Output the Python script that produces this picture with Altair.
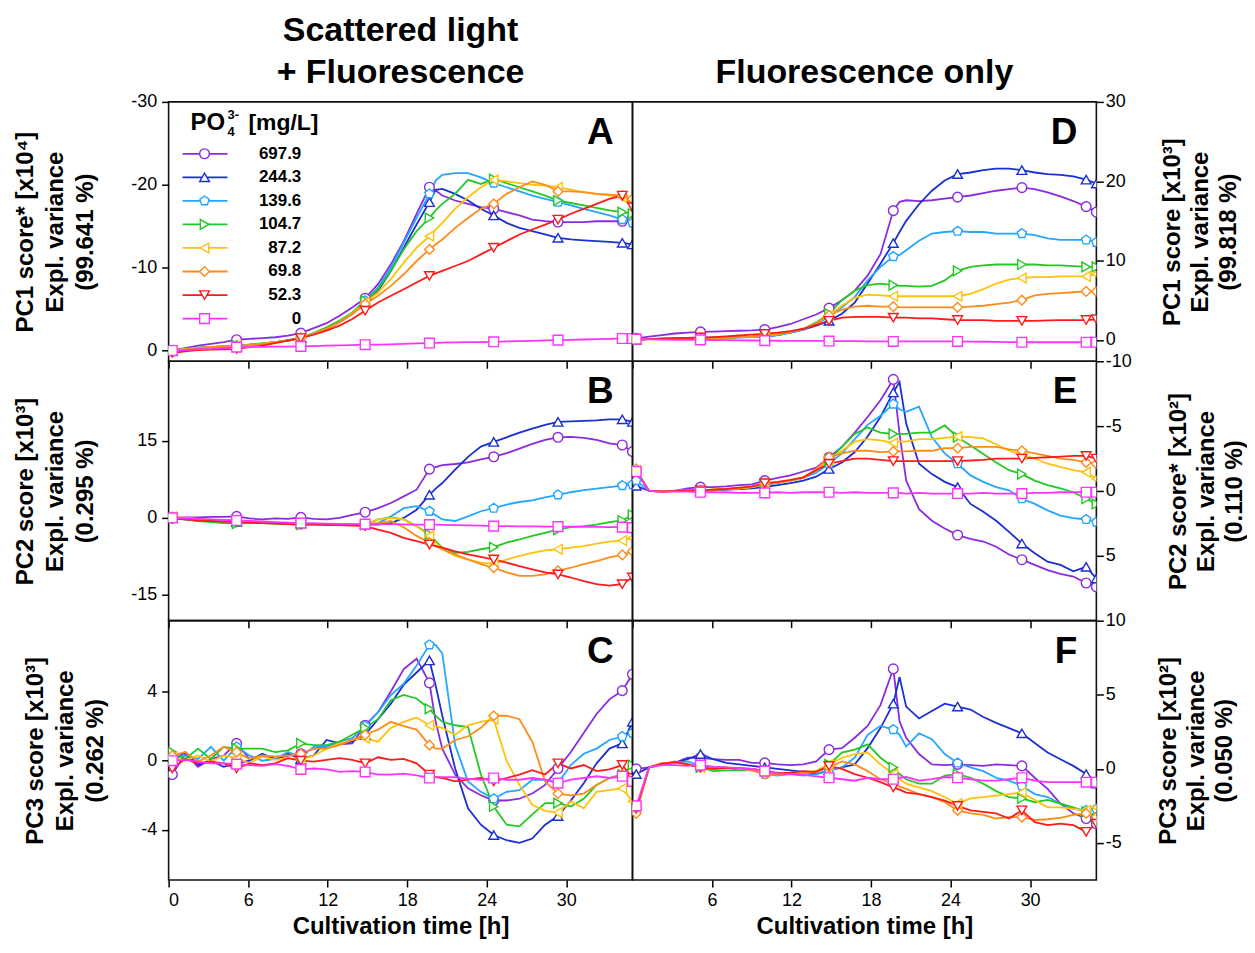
import altair as alt
import pandas as pd

FONT = "Liberation Sans"

# ---------------- data ----------------
time_h = [0.28, 1.25, 2.22, 3.19, 4.16, 5.13, 6.10, 7.07, 8.04, 9.01,
          9.98, 10.95, 11.92, 12.89, 13.86, 14.83, 15.80, 16.77, 17.74, 18.71,
          19.68, 20.15, 20.65, 21.62, 22.59, 23.56, 24.53, 25.50, 26.47, 27.44,
          28.41, 29.38, 30.35, 31.32, 32.29, 33.26, 34.23, 35.0]
marker_idx = [0, 5, 10, 15, 20, 26, 31, 36, 37]

conc_labels = ["697.9", "244.3", "139.6", "104.7", "87.2", "69.8", "52.3", "0"]
series_colors = ["#8A2BE2", "#1A2FD4", "#22A6FF", "#22C922", "#FFC20A", "#FF8C1A", "#FF1A1A", "#FF33FF"]
PENTAGON = "M0,-1L0.951,-0.309L0.588,0.809L-0.588,0.809L-0.951,-0.309Z"
series_shapes = ["circle", "triangle-up", PENTAGON, "triangle-right", "triangle-left",
                 "diamond", "triangle-down", "square"]

# Panel A: PC1, scattered light + fluorescence
A_6979 = [0.0,-0.3,-0.6,-0.8,-1.0, -1.3,-1.4,-1.5,-1.6,-1.8, -2.1,-2.7,-3.3,-4.2,-5.2, -6.3,-8.0,-10.4,-13.2,-16.5, -19.7,-19.3, -18.7,-18.1,-17.7,-17.3,-17.1, -16.7,-16.3,-15.8,-15.6,-15.5, -15.5,-15.5,-15.6,-15.6,-15.6, -16.0]
A_2443 = [0.1,-0.2,-0.3,-0.4,-0.5, -0.6,-0.7,-0.8,-1.0,-1.2, -1.5,-2.0,-2.6,-3.4,-4.4, -5.8,-7.2,-9.6,-12.4,-15.2, -17.9,-19.4, -19.5,-18.9,-18.1,-17.1,-16.3, -15.4,-14.8,-14.4,-14.0,-13.6, -13.4,-13.3,-13.2,-13.1,-13.0, -12.8]
A_1396 = [0.0,-0.2,-0.3,-0.4,-0.5, -0.6,-0.7,-0.85,-1.0,-1.25, -1.5,-2.1,-2.7,-3.5,-4.5, -6.0,-7.6,-10.0,-13.0,-16.0, -18.9,-20.5, -21.2,-21.4,-21.4,-20.9,-20.2, -19.7,-19.2,-18.7,-18.3,-17.9, -17.5,-17.1,-16.7,-16.3,-15.8, -15.4]
A_1047 = [0.0,-0.2,-0.35,-0.45,-0.5, -0.6,-0.7,-0.85,-1.0,-1.25, -1.5,-2.1,-2.8,-3.6,-4.6, -6.0,-7.4,-9.6,-12.2,-14.4, -16.0,-16.9, -17.7,-18.9,-20.6,-20.1,-20.7, -20.2,-19.7,-19.2,-18.7,-18.1, -17.8,-17.5,-17.2,-16.9,-16.7, -16.5]
A_872 = [0.0,-0.15,-0.3,-0.4,-0.5, -0.55,-0.65,-0.8,-1.0,-1.2, -1.5,-2.0,-2.6,-3.4,-4.5, -5.8,-7.0,-8.6,-10.6,-12.4, -13.8,-14.6, -15.4,-17.1,-18.5,-19.7,-20.6, -20.4,-20.2,-20.0,-19.9,-19.7, -19.4,-19.1,-18.9,-18.7,-18.5, -18.1]
A_698 = [0.1,-0.15,-0.3,-0.4,-0.5, -0.55,-0.65,-0.8,-1.0,-1.2, -1.5,-2.0,-2.6,-3.4,-4.4, -5.6,-6.6,-7.8,-9.2,-10.8, -12.2,-12.8, -13.4,-14.8,-16.0,-17.1,-17.7, -18.9,-19.7,-20.4,-20.0,-19.2, -19.2,-19.1,-18.9,-18.8,-18.7, -18.3]
A_523 = [0.3,0.1,-0.05,-0.1,-0.15, -0.2,-0.4,-0.6,-0.9,-1.2, -1.5,-1.9,-2.4,-3.0,-3.8, -4.8,-5.8,-6.6,-7.4,-8.2, -9.0,-9.3, -9.6,-10.2,-10.8,-11.6,-12.4, -13.2,-14.0,-14.6,-15.2,-15.8, -16.5,-17.1,-17.7,-18.3,-18.7, -17.3]
A_0 = [0.0,-0.05,-0.15,-0.2,-0.3, -0.4,-0.42,-0.44,-0.46,-0.48, -0.5,-0.54,-0.58,-0.62,-0.66, -0.7,-0.72,-0.75,-0.8,-0.85, -0.9,-0.92, -0.94,-0.97,-1.0,-1.02,-1.05, -1.09,-1.13,-1.17,-1.21,-1.25, -1.29,-1.33,-1.37,-1.41,-1.45, -1.45]

# Panel B: PC2, scattered light + fluorescence
B_6979 = [0.0,0.1,0.1,0.2,0.2, 0.3,-0.1,-0.3,-0.1,-0.2, 0.1,-0.2,-0.3,0.0,0.6, 1.1,1.9,2.9,4.2,5.5, 9.5,9.9, 10.3,10.5,10.8,11.4,11.9, 12.6,13.5,14.4,15.2,15.7, 15.8,15.6,15.2,14.5,14.2, 12.9]
B_2443 = [0.0,-0.3,-0.5,-0.6,-0.7, -0.8,-0.9,-1.0,-1.0,-1.1, -1.1,-1.1,-1.2,-1.2,-1.3, -1.3,-1.3,-1.0,0.0,1.6, 4.5,5.7, 6.8,9.4,11.9,13.9,14.8, 15.7,16.6,17.4,18.1,18.7, 18.8,18.9,19.0,19.2,19.2, 18.7]
B_1396 = [0.0,-0.3,-0.5,-0.6,-0.7, -0.8,-0.9,-1.0,-1.0,-1.2, -1.3,-1.3,-1.3,-1.3,-1.3, -1.3,-1.0,0.3,1.9,2.3, 1.3,0.5, -0.3,-0.6,0.3,1.3,1.9, 2.6,3.1,3.4,4.0,4.5, 5.0,5.4,5.7,6.0,6.3, 6.5]
B_1047 = [0.1,-0.3,-0.6,-0.8,-1.0, -1.1,-1.0,-1.0,-1.1,-1.2, -1.3,-1.2,-1.2,-1.3,-1.3, -1.3,-0.3,0.1,-0.3,-1.6, -3.2,-4.5, -5.8,-6.8,-6.6,-6.1,-5.7, -4.8,-4.2,-3.5,-2.9,-2.3, -1.8,-1.6,-1.3,-0.8,-0.5, 0.6]
B_872 = [0.2,0.0,-0.2,-0.4,-0.5, -0.6,-0.7,-0.8,-0.9,-1.0, -1.1,-1.2,-1.2,-1.3,-1.3, -1.3,-0.3,0.0,-0.3,-1.6, -3.5,-4.8, -6.1,-7.4,-8.1,-8.7,-8.9, -8.1,-7.4,-6.8,-6.3,-6.1, -5.8,-5.5,-5.0,-4.6,-4.4, -3.9]
B_698 = [0.2,0.0,-0.2,-0.4,-0.5, -0.6,-0.7,-0.8,-0.9,-1.0, -1.1,-1.2,-1.2,-1.3,-1.3, -1.3,-1.0,-0.6,-1.8,-3.5, -4.8,-5.5, -6.1,-7.1,-8.1,-9.0,-9.7, -10.6,-11.3,-11.3,-11.0,-10.3, -9.7,-9.0,-8.4,-7.7,-7.2, -6.5]
B_523 = [-0.2,-0.3,-0.5,-0.6,-0.7, -0.8,-0.9,-1.0,-1.1,-1.2, -1.3,-1.3,-1.4,-1.4,-1.5, -1.6,-2.3,-2.9,-3.9,-4.5, -5.2,-5.5, -5.8,-6.5,-7.1,-7.6,-8.1, -8.7,-9.4,-10.0,-10.6,-11.0, -11.6,-12.3,-12.9,-13.2,-12.9, -11.6]
B_0 = [0.0,-0.1,-0.2,-0.3,-0.4, -0.5,-0.6,-0.7,-0.8,-0.9, -1.0,-1.05,-1.1,-1.15,-1.2, -1.2,-1.2,-1.2,-1.25,-1.3, -1.3,-1.3, -1.35,-1.4,-1.45,-1.5,-1.6, -1.6,-1.65,-1.65,-1.7,-1.7, -1.7,-1.75,-1.75,-1.8,-1.8, -1.9]

# Panel C: PC3, scattered light + fluorescence
C_6979 = [-0.8,0.4,-0.35,0.1,0.3, 1.0,0.1,0.3,0.1,0.3, 0.4,0.7,0.8,0.95,1.0, 2.05,2.8,4.0,5.3,5.9, 4.5,2.25, 0.7,-0.8,-1.6,-2.0,-2.3, -2.3,-2.2,-1.9,-1.4,-0.45, 0.5,1.6,2.7,3.55,4.05, 5.0]
C_2443 = [0.0,0.5,-0.25,0.0,-0.35, -0.15,0.0,0.4,0.1,0.4, 0.1,0.3,1.2,1.0,1.1, 1.5,2.4,3.3,4.4,5.1, 5.8,4.35, 2.6,-0.45,-2.75,-3.7,-4.3, -4.6,-4.75,-4.5,-3.7,-3.2, -2.3,-1.3,-0.15,0.7,1.0, 2.25]
C_1396 = [0.1,0.3,0.1,0.8,0.0, 0.8,0.3,0.0,0.1,0.5, 0.2,0.8,0.8,1.1,1.3, 2.0,2.8,3.8,4.45,5.5, 6.7,6.7, 6.2,0.9,-1.2,-1.8,-2.2, -1.8,-1.7,-1.1,-1.1,-1.3, -0.25,0.4,0.7,1.2,1.4, 1.6]
C_1047 = [0.5,0.1,0.7,0.1,0.8, 0.7,0.7,0.7,0.5,0.6, 1.0,0.9,0.9,1.1,1.5, 1.9,2.4,3.5,3.8,3.6, 3.0,2.6, 2.25,2.05,1.95,-0.8,-2.65, -3.7,-3.8,-3.1,-2.45,-2.45, -2.65,-2.2,-1.4,-1.0,-0.8, -0.25]
C_872 = [0.2,0.0,0.3,-0.05,0.3, 0.15,-0.15,0.25,0.05,0.15, 0.05,0.3,0.7,1.0,1.2, 1.3,1.1,1.9,2.25,2.5, 2.05,2.0, 1.9,1.5,2.05,2.25,2.4, 0.0,-1.4,-2.55,-2.9,-3.0, -2.35,-2.75,-1.8,-1.7,-1.6, -2.35]
C_698 = [0.3,0.5,-0.05,0.3,0.8, 0.5,0.1,0.3,0.25,0.3, 0.4,0.7,0.7,0.9,1.2, 1.5,1.8,2.25,2.0,1.8, 0.9,0.7, 0.7,1.2,1.4,1.9,2.6, 2.6,2.4,1.1,-1.2,-1.9, -2.0,-1.9,-1.4,-1.0,-0.8, -1.2]
C_523 = [-0.45,0.1,-0.15,-0.05,-0.15, -0.45,-0.15,-0.25,-0.15,0.15, 0.0,-0.05,0.05,0.15,0.05, -0.15,0.2,0.05,0.1,-0.15, -0.8,-0.95, -1.0,-1.2,-1.1,-1.0,-1.2, -1.0,-0.8,-0.55,-0.8,-0.15, -0.45,-0.25,-0.6,-0.5,-0.25, -1.0]
C_0 = [0.0,0.05,-0.05,-0.15,-0.15, -0.2,-0.25,-0.3,-0.2,-0.3, -0.5,-0.45,-0.5,-0.65,-0.6, -0.65,-0.8,-0.8,-0.75,-0.85, -1.0,-0.95, -0.95,-0.95,-1.05,-1.1,-1.0, -1.1,-1.1,-1.0,-1.1,-1.3, -1.1,-1.0,-0.9,-1.0,-0.9, -1.2]

# Panel D: PC1, fluorescence only
D_6979 = [0.2,0.4,0.6,0.8,0.9, 1.0,1.05,1.1,1.15,1.2, 1.3,1.6,2.0,2.6,3.2, 4.0,5.0,6.2,8.1,10.8, 16.3,17.4, 17.6,17.5,17.6,17.8,18.0, 18.2,18.5,18.8,19.0,19.2, 19.0,18.6,18.1,17.5,16.8, 16.1]
D_2443 = [0.0,0.1,0.15,0.2,0.22, 0.25,0.3,0.32,0.35,0.38, 0.4,0.6,0.9,1.3,1.8, 2.4,3.3,4.7,7.1,9.6, 12.2,13.6, 15.0,17.1,18.8,20.1,20.9, 21.1,21.4,21.6,21.6,21.4, 21.1,20.9,20.8,20.6,20.2, 19.7]
D_1396 = [0.1,0.1,0.12,0.14,0.15, 0.15,0.2,0.25,0.3,0.35, 0.4,0.6,0.9,1.3,2.0, 2.9,4.1,5.4,7.5,9.2, 10.5,10.7, 11.3,12.5,13.4,13.6,13.7, 13.6,13.6,13.4,13.4,13.4, 13.2,12.8,12.6,12.6,12.6, 12.3]
D_1047 = [0.1,0.1,0.15,0.2,0.2, 0.2,0.25,0.3,0.35,0.4, 0.5,0.7,1.0,1.4,2.2, 3.3,5.0,6.2,6.9,7.1, 6.9,6.8, 6.8,6.7,6.8,7.5,8.7, 9.2,9.4,9.5,9.5,9.5, 9.5,9.4,9.4,9.3,9.2, 9.2]
D_872 = [0.1,0.1,0.15,0.2,0.2, 0.2,0.25,0.3,0.35,0.4, 0.5,0.7,1.0,1.4,2.1, 3.1,4.3,5.3,5.7,5.6, 5.5,5.5, 5.5,5.5,5.5,5.5,5.5, 5.8,6.4,7.1,7.6,7.8, 7.9,7.9,8.0,8.0,8.0, 8.3]
D_698 = [0.05,0.1,0.12,0.15,0.18, 0.2,0.25,0.3,0.35,0.4, 0.5,0.7,1.0,1.4,2.1, 3.1,3.8,4.2,4.3,4.2, 4.2,4.1, 4.1,4.1,4.1,4.1,4.1, 4.2,4.3,4.5,4.7,5.0, 5.6,5.8,5.9,6.0,6.1, 6.1]
D_523 = [0.0,0.1,0.15,0.2,0.25, 0.3,0.35,0.45,0.55,0.65, 0.75,0.9,1.1,1.4,1.9, 2.4,2.8,2.9,2.9,2.9, 2.8,2.8, 2.8,2.7,2.7,2.6,2.5, 2.5,2.5,2.4,2.4,2.4, 2.4,2.45,2.5,2.5,2.5, 2.6]
D_0 = [0.1,0.05,0.02,0.0,0.0, 0.0,-0.02,-0.04,-0.06,-0.08, -0.1,-0.11,-0.12,-0.13,-0.14, -0.15,-0.16,-0.17,-0.18,-0.19, -0.2,-0.2, -0.2,-0.2,-0.2,-0.2,-0.2, -0.22,-0.24,-0.26,-0.28,-0.3, -0.3,-0.3,-0.3,-0.3,-0.3, -0.3]

# Panel E: PC2, fluorescence only
E_6979 = [-1.5,0.0,0.05,0.0,-0.2, -0.3,-0.3,-0.35,-0.45,-0.5, -0.8,-1.0,-1.2,-1.5,-1.8, -2.6,-3.4,-4.5,-5.7,-7.0, -8.6,-4.4, -0.8,1.4,2.3,2.9,3.4, 3.7,3.9,4.3,4.9,5.3, 5.7,6.1,6.4,6.6,7.1, 7.4]
E_2443 = [-0.4,0.0,0.0,0.0,0.0, 0.0,-0.05,-0.1,-0.15,-0.2, -0.3,-0.45,-0.6,-0.8,-1.1, -1.7,-2.2,-3.0,-4.2,-5.7, -7.6,-8.4, -5.2,-2.1,-1.3,-0.7,-0.3, 1.0,1.6,2.3,3.15,4.05, 4.8,5.45,5.7,6.2,5.85, 6.75]
E_1396 = [-0.8,0.0,0.0,0.0,-0.05, 0.0,-0.05,-0.1,-0.2,-0.3, -0.45,-0.6,-0.8,-1.0,-1.4, -2.1,-2.9,-4.0,-5.1,-5.8, -6.7,-6.3, -6.1,-6.5,-4.15,-2.9,-2.1, -1.2,-0.7,-0.3,-0.05,0.6, 1.0,1.5,1.9,2.1,2.2, 2.4]
E_1047 = [-1.6,0.0,0.05,0.0,-0.05, -0.05,-0.1,-0.15,-0.2,-0.3, -0.55,-0.65,-0.8,-1.0,-1.6, -2.4,-3.4,-4.4,-4.9,-4.5, -4.4,-4.4, -4.4,-4.5,-4.5,-5.05,-4.15, -3.5,-2.85,-2.2,-1.6,-1.3, -0.8,-0.45,-0.2,0.1,0.6, 1.0]
E_872 = [-1.6,0.0,0.05,0.0,-0.05, -0.05,-0.1,-0.15,-0.2,-0.3, -0.55,-0.65,-0.8,-1.0,-1.6, -2.4,-3.1,-3.8,-4.0,-3.9, -3.7,-3.8, -3.8,-4.0,-4.0,-4.1,-4.2, -4.15,-4.05,-3.6,-3.1,-2.8, -2.5,-2.1,-1.85,-1.6,-1.45, -0.95]
E_698 = [-1.7,0.0,0.05,0.0,-0.05, -0.05,-0.1,-0.15,-0.2,-0.3, -0.55,-0.65,-0.8,-1.05,-1.7, -2.6,-2.9,-3.1,-3.1,-3.0, -3.05,-3.05, -3.05,-3.1,-3.1,-3.3,-3.3, -3.4,-3.4,-3.4,-3.2,-3.1, -2.9,-2.7,-2.5,-2.4,-2.2, -2.1]
E_523 = [-1.5,0.0,0.05,0.0,-0.05, -0.05,-0.1,-0.15,-0.25,-0.35, -0.6,-0.7,-0.85,-1.05,-1.6, -2.1,-2.3,-2.5,-2.5,-2.4, -2.3,-2.3, -2.3,-2.3,-2.3,-2.3,-2.3, -2.35,-2.4,-2.5,-2.5,-2.5, -2.55,-2.6,-2.65,-2.7,-2.7, -2.5]
E_0 = [-1.5,0.0,0.05,0.05,0.05, 0.1,0.1,0.1,0.15,0.15, 0.15,0.1,0.15,0.1,0.1, 0.1,0.15,0.1,0.15,0.15, 0.15,0.15, 0.2,0.15,0.2,0.2,0.2, 0.2,0.15,0.2,0.2,0.2, 0.15,0.15,0.1,0.1,0.1, 0.1]

# Panel F: PC3, fluorescence only
F_6979 = [0.0,0.1,0.3,0.4,0.75, 0.75,0.65,0.6,0.6,0.4, 0.4,0.3,0.25,0.3,0.5, 1.3,1.4,2.1,2.9,4.3, 6.75,3.2, 2.1,1.0,0.3,0.25,0.3, 0.25,0.2,0.3,0.25,0.2, -0.6,-1.35,-2.35,-3.0,-3.35, -3.7]
F_2443 = [-0.35,0.1,0.3,0.4,0.65, 1.0,0.65,0.4,0.3,0.2, 0.1,0.0,-0.1,-0.2,-0.35, -0.1,0.1,0.3,1.4,2.75, 4.4,6.2, 4.2,3.4,3.9,4.4,4.2, 4.0,3.5,3.1,2.75,2.4, 1.75,1.1,0.65,0.2,-0.35, -1.0]
F_1396 = [-2.8,0.1,0.3,0.4,0.5, 0.2,0.1,0.1,-0.1,-0.1, -0.35,-0.45,-0.35,-0.45,-0.35, -0.1,0.1,0.75,2.3,2.9, 2.65,2.3, 1.5,2.4,2.0,1.0,0.4, 0.1,-0.15,-0.6,-0.8,-1.15, -1.7,-1.9,-2.35,-2.7,-2.8, -2.7]
F_1047 = [-2.8,0.1,0.3,0.5,0.3, 0.1,-0.15,-0.1,-0.1,0.0, -0.15,-0.25,-0.35,-0.3,-0.15, 0.3,1.1,1.3,1.65,0.75, 0.1,-0.35, -0.7,-1.0,-1.0,-0.45,-0.35, -0.6,-1.0,-1.5,-1.9,-2.0, -2.25,-2.1,-2.35,-2.6,-2.9, -3.35]
F_872 = [-2.7,0.1,0.4,0.4,0.3, 0.1,0.0,0.1,0.05,-0.1, -0.25,-0.35,-0.3,-0.25,-0.15, 0.3,0.75,1.0,1.1,0.3, -0.35,-0.7, -1.0,-1.25,-1.5,-1.9,-2.35, -2.0,-1.9,-1.8,-1.7,-1.6, -2.1,-2.6,-2.6,-2.7,-2.8, -2.6]
F_698 = [-3.0,0.1,0.35,0.45,0.3, 0.1,0.0,0.05,0.05,-0.1, -0.35,-0.4,-0.35,-0.3,-0.2, 0.1,0.5,0.3,-0.15,-0.7, -1.0,-1.2, -1.35,-1.7,-1.9,-2.25,-2.8, -3.0,-3.1,-3.35,-3.25,-3.25, -3.45,-3.4,-3.3,-3.1,-3.0, -3.25]
F_523 = [-2.7,0.1,0.35,0.45,0.3, 0.1,0.0,0.05,0.05,0.0, -0.15,-0.3,-0.25,-0.15,-0.2, 0.2,0.0,-0.35,-0.6,-0.9, -1.25,-1.4, -1.6,-1.7,-1.9,-2.15,-2.5, -2.8,-2.9,-3.0,-3.35,-2.8, -3.6,-3.8,-3.7,-3.8,-4.25, -3.7]
F_0 = [-2.5,0.1,0.25,0.25,0.2, 0.25,0.15,0.1,0.05,0.0, -0.15,-0.3,-0.35,-0.4,-0.5, -0.6,-0.7,-0.8,-0.6,-0.7, -0.7,-0.6, -0.55,-0.8,-0.7,-0.55,-0.6, -0.7,-0.8,-0.8,-0.7,-0.6, -0.8,-0.9,-0.9,-0.9,-0.9, -0.9]

panel_series = {
    "A": [A_6979, A_2443, A_1396, A_1047, A_872, A_698, A_523, A_0],
    "B": [B_6979, B_2443, B_1396, B_1047, B_872, B_698, B_523, B_0],
    "C": [C_6979, C_2443, C_1396, C_1047, C_872, C_698, C_523, C_0],
    "D": [D_6979, D_2443, D_1396, D_1047, D_872, D_698, D_523, D_0],
    "E": [E_6979, E_2443, E_1396, E_1047, E_872, E_698, E_523, E_0],
    "F": [F_6979, F_2443, F_1396, F_1047, F_872, F_698, F_523, F_0],
}

rows = []
for key, series in panel_series.items():
    for lab, vals in zip(conc_labels, series):
        assert len(vals) == len(time_h), (key, lab, len(vals))
        for j, (t, v) in enumerate(zip(time_h, vals)):
            rows.append({"panel": key, "conc": lab, "t": t, "v": v, "m": j in marker_idx})
long_df = pd.DataFrame(rows)

# ---------------- styling ----------------
W, H = 465, 260
color_enc = alt.Color("conc:N", scale=alt.Scale(domain=conc_labels, range=series_colors), legend=None)
shape_enc = alt.Shape("conc:N", scale=alt.Scale(domain=conc_labels, range=series_shapes), legend=None)

axis_common = dict(tickSize=7, tickWidth=1.5, tickColor="black", domain=False, grid=False,
                   labelFont=FONT, labelFontSize=18, labelColor="black",
                   titleFont=FONT, titleFontSize=24, titleFontWeight="bold", titleColor="black")

panel_cfg = {
    "A": dict(dom=[-30, 1.3], rev=True, ticks=[-30, -20, -10, 0], orient="left",
              title=["PC1 score* [x10\u2074]", "Expl. variance", "(99.641 %)"]),
    "B": dict(dom=[-20, 30.5], rev=False, ticks=[-15, 0, 15], orient="left",
              title=["PC2 score [x10\u00b3]", "Expl. variance", "(0.295 %)"]),
    "C": dict(dom=[-6.9, 8.1], rev=False, ticks=[-4, 0, 4], orient="left",
              title=["PC3 score [x10\u00b3]", "Expl. variance", "(0.262 %)"]),
    "D": dict(dom=[-2.7, 30], rev=False, ticks=[0, 10, 20, 30], orient="right",
              title=["PC1 score [x10\u00b3]", "Expl. variance", "(99.818 %)"]),
    "E": dict(dom=[-10, 10], rev=True, ticks=[-10, -5, 0, 5, 10], orient="right",
              title=["PC2 score* [x10\u00b2]", "Expl. variance", "(0.110 %)"]),
    "F": dict(dom=[-7.5, 10], rev=False, ticks=[-5, 0, 5], orient="right",
              title=["PC3 score [x10\u00b2]", "Expl. variance", "(0.050 %)"]),
}


def make_panel(key):
    cfg = panel_cfg[key]
    d = long_df[long_df.panel == key]
    if key == "C":
        xaxis = alt.Axis(values=[0, 6, 12, 18, 24, 30], title="Cultivation time [h]",
                         labelPadding=5, titlePadding=5, **axis_common)
    elif key == "F":
        xaxis = alt.Axis(values=[6, 12, 18, 24, 30], title="Cultivation time [h]",
                         labelPadding=5, titlePadding=5, **axis_common)
    else:
        xaxis = alt.Axis(values=[0, 6, 12, 18, 24, 30], labels=False, title=None, **axis_common)
    if cfg["orient"] == "left":
        ypad = dict(labelPadding=5, titlePadding=33, titleLineHeight=30)
    else:
        ypad = dict(labelPadding=2, titlePadding=3, titleLineHeight=28)
    yaxis = alt.Axis(values=cfg["ticks"], orient=cfg["orient"], title=cfg["title"],
                     titleAngle=270, labelExpr="'' + datum.value",
                     **ypad, **axis_common)
    x_enc = alt.X("t:Q", scale=alt.Scale(domain=[0, 35], nice=False, zero=False), axis=xaxis)
    y_enc = alt.Y("v:Q", scale=alt.Scale(domain=cfg["dom"], reverse=cfg["rev"], nice=False, zero=False),
                  axis=yaxis)
    lines = alt.Chart(d).mark_line(strokeWidth=1.8, clip=True).encode(x=x_enc, y=y_enc, color=color_enc)
    pts = alt.Chart(d[d.m]).mark_point(filled=False, fill="white", fillOpacity=1, size=95,
                                       strokeWidth=1.4, opacity=1, clip=True).encode(
        x=x_enc, y=y_enc, color=color_enc, shape=shape_enc)
    letter = alt.Chart(pd.DataFrame({"l": [key]})).mark_text(
        font=FONT, fontSize=37, fontWeight="bold", color="black", align="right", baseline="alphabetic"
    ).encode(x=alt.value(W - 19), y=alt.value(42), text="l:N")
    layers = [lines, pts, letter]

    if key == "A":
        leg = pd.DataFrame({"conc": conc_labels, "row": list(range(len(conc_labels)))})
        legbase = alt.Chart(leg).transform_calculate(ypix="52 + datum.row * 23.6")
        ypix = alt.Y("ypix:Q", scale=None)
        leg_line = legbase.mark_rule(strokeWidth=1.8).encode(
            x=alt.value(14), x2=alt.value(59), y=ypix, color=color_enc)
        leg_pt = legbase.mark_point(filled=False, fill="white", fillOpacity=1, size=95,
                                    strokeWidth=1.4, opacity=1).encode(
            x=alt.value(36), y=ypix, color=color_enc, shape=shape_enc)
        leg_txt = legbase.mark_text(font=FONT, fontSize=17, fontWeight="bold", color="black",
                                    align="right", baseline="middle").encode(
            x=alt.value(133), y=ypix, text="conc:N")
        hdr = []
        for txt, px, py, fs in [("PO", 22, 28, 24), ("3-", 59, 17, 13), ("4", 59, 34, 13), ("[mg/L]", 80, 28, 23)]:
            hdr.append(alt.Chart(pd.DataFrame({"s": [txt]})).mark_text(
                font=FONT, fontSize=fs, fontWeight="bold", color="black", align="left",
                baseline="alphabetic").encode(x=alt.value(px), y=alt.value(py), text="s:N"))
        layers += [leg_line, leg_pt, leg_txt] + hdr

    ch = alt.layer(*layers).properties(width=W, height=H)
    if key == "A":
        ch = ch.properties(title=alt.TitleParams(
            text=["Scattered light", "+ Fluorescence"], font=FONT, fontSize=34, fontWeight="bold",
            color="black", anchor="middle", baseline="alphabetic", lineHeight=42, offset=-24, frame="group"))
    if key == "D":
        ch = ch.properties(title=alt.TitleParams(
            text="Fluorescence only", font=FONT, fontSize=34, fontWeight="bold",
            color="black", anchor="middle", baseline="alphabetic", offset=-24, frame="group"))
    return ch


chart = alt.concat(*[make_panel(k) for k in ["A", "D", "B", "E", "C", "F"]],
                   columns=2, spacing=0, bounds="flush").properties(
    padding={"left": 5, "top": 4, "right": 0, "bottom": 0}).configure_view(
    stroke="#111111", strokeWidth=1.6)

chart.save("out.html", embed_options={"renderer": "svg", "actions": False})
